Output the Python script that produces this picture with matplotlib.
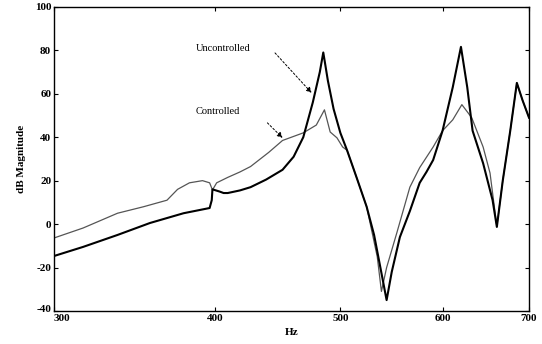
import matplotlib
matplotlib.use("Agg")
import matplotlib.pyplot as plt
from matplotlib.ticker import NullLocator
from matplotlib.transforms import ScaledTranslation

# Data (Hz, dB)
unc_hz = [300, 316, 336, 356, 378, 396, 397.5, 398, 403, 406, 409, 418, 426, 438, 451, 460,
          468, 476, 482, 485, 489, 494, 500, 506, 515, 524, 531, 537, 543, 548, 556, 566,
          576, 583, 590, 600, 611, 620, 627, 633, 645, 656, 661, 668, 677, 685, 692, 700]
unc_db = [-14.7, -10.5, -5, 0.5, 5, 7.4, 11, 16, 15, 14.3, 14.3, 15.5, 17, 20.5, 25, 31,
          40, 56, 70, 79, 66, 53, 42, 34, 21, 8, -5, -20, -35, -22, -6, 6,
          19, 24, 29.5, 43, 63, 81.6, 63, 43, 28, 11, -1.3, 20, 43, 65, 57, 49]

ctl_hz = [300, 316, 336, 352, 367, 374, 382, 391, 396, 398, 401, 409, 418, 426, 440, 451,
          468, 479, 486, 491, 497, 502, 506, 515, 524, 534, 538, 543, 553, 566, 576, 590,
          600, 611, 621, 632, 645, 653, 659, 661, 668, 677, 685, 692, 700]
ctl_db = [-6.4, -1.8, 5, 8, 11, 16, 19, 20, 19, 15.7, 19, 21.5, 24, 26.5, 33, 38.5,
          42, 45.6, 52.6, 42.4, 39.7, 35.5, 34, 21, 8, -15, -31, -20, -4, 17, 26, 35.5,
          43, 48, 55, 49, 35.5, 23.5, 5, -1, 20, 43, 65, 57, 49]

x_ticks = [300, 400, 500, 600, 700]
y_ticks = [-40, -20, 0, 20, 40, 60, 80, 100]

font = "Liberation Serif"

fig = plt.figure(figsize=(5.42, 3.44), dpi=100)
ax = fig.add_axes([0.0996, 0.096, 0.8764, 0.884])

ax.plot(ctl_hz, ctl_db, color="#555555", lw=0.9)
ax.plot(unc_hz, unc_db, color="black", lw=1.5)

ax.set_xscale("log")
ax.set_xlim(300, 700)
ax.set_ylim(-40, 100)
ax.set_xticks(x_ticks)
ax.set_xticklabels([str(t) for t in x_ticks], fontfamily=font, fontsize=8, fontweight="bold")
ax.xaxis.set_minor_locator(NullLocator())
ax.set_yticks(y_ticks)
ax.set_yticklabels([str(t) for t in y_ticks], fontfamily=font, fontsize=8, fontweight="bold")
ax.tick_params(direction="in", top=True, right=True, length=3, width=0.8, pad=2)
for s in ax.spines.values():
    s.set_linewidth(1.0)

# shift overlapping corner labels apart like in the reference
fig.canvas.draw()
xl = ax.get_xticklabels()[0]
xl.set_transform(xl.get_transform() + ScaledTranslation(6 / 72, 0, fig.dpi_scale_trans))
yl = ax.get_yticklabels()[0]
yl.set_transform(yl.get_transform() + ScaledTranslation(0, 2 / 72, fig.dpi_scale_trans))

ax.set_xlabel("Hz", fontfamily=font, fontsize=8, fontweight="bold", labelpad=4)
ax.set_ylabel("dB Magnitude", fontfamily=font, fontsize=8, fontweight="bold", labelpad=6)

ax.text(386, 81, "Uncontrolled", fontfamily=font, fontsize=7.5, va="center", ha="left")
ax.text(386, 52, "Controlled", fontfamily=font, fontsize=7.5, va="center", ha="left")
arrow = dict(arrowstyle="-|>", linestyle=(0, (2, 2)), color="black", lw=0.7,
             shrinkA=0, shrinkB=0, mutation_scale=8)
ax.annotate("", xy=(475, 60.4), xytext=(445, 78.8), arrowprops=arrow)
ax.annotate("", xy=(451, 39.7), xytext=(439, 46.6), arrowprops=arrow)

fig.savefig("out.png", dpi=100)
